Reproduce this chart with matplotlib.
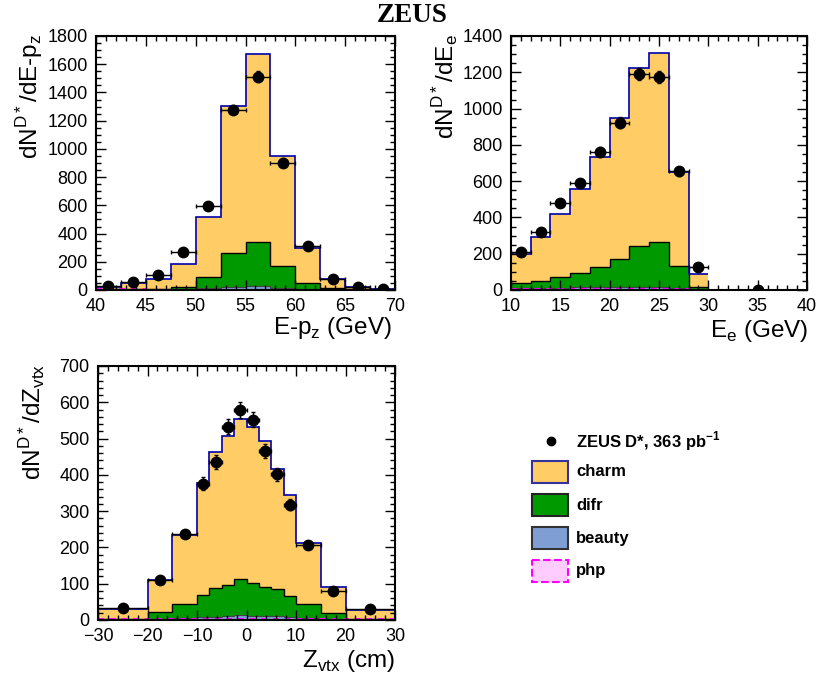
import numpy as np
import matplotlib
matplotlib.use('Agg')
import matplotlib.pyplot as plt
from matplotlib.patches import Rectangle
from matplotlib.ticker import MultipleLocator

plt.rcParams['font.family'] = ['Liberation Sans', 'DejaVu Sans']
plt.rcParams['mathtext.fontset'] = 'custom'
plt.rcParams['mathtext.rm'] = 'Liberation Sans'
plt.rcParams['mathtext.bf'] = 'Liberation Sans:bold'

# ---- E-pz panel
edges1 = np.arange(40, 70.1, 2.5)
php1 = [4, 4, 3, 2, 2, 2, 2, 2, 2, 3, 3, 3]
beauty1 = [2, 2, 3, 5, 10, 22, 24, 15, 6, 3, 1, 0]
difr1 = [1, 1, 2, 14, 80, 239, 313, 154, 42, 6, 1, 0]
charm1 = [17, 40, 70, 164, 424, 1039, 1330, 779, 246, 66, 14, 2]
x1 = [41.25, 43.75, 46.25, 48.75, 51.25, 53.75, 56.25, 58.75, 61.25, 63.75, 66.25, 68.75]
y1 = [25, 54, 109, 270, 592, 1279, 1511, 902, 310, 76, 24, 7]
ey1 = [6, 8, 12, 17, 24, 35, 38, 30, 18, 9, 5, 3]

# ---- E_e panel
edges2 = np.arange(10, 30.1, 2)
php2 = [8, 5, 4, 4, 3, 3, 3, 3, 3, 2]
beauty2 = [3, 5, 6, 12, 14, 14, 14, 13, 6, 3]
difr2 = [26, 38, 60, 80, 112, 152, 224, 250, 123, 13]
charm2 = [160, 246, 347, 462, 606, 777, 984, 1042, 520, 70]
x2 = [11, 13, 15, 17, 19, 21, 23, 25, 27, 29, 35]
y2 = [208, 318, 480, 589, 760, 923, 1190, 1172, 654, 127, 0]
ex2 = [1, 1, 1, 1, 1, 1, 1, 1, 1, 1, 0]
ey2 = [12, 16, 20, 22, 26, 30, 34, 33, 24, 10, 0]

# ---- Z_vtx panel
edges3 = [-30, -20, -15, -10, -7.5, -5, -2.5, 0, 2.5, 5, 7.5, 10, 15, 20, 30]
php3 = [2, 2, 2, 3, 3, 3, 3, 3, 3, 3, 3, 2, 2, 2]
beauty3 = [1, 2, 3, 4, 6, 9, 11, 8, 7, 8, 6, 3, 2, 1]
difr3 = [1, 18, 40, 63, 79, 84, 99, 92, 80, 75, 56, 38, 14, 1]
charm3 = [27, 88, 190, 308, 375, 411, 441, 429, 403, 331, 279, 169, 72, 24]
x3 = [-25, -17.5, -12.5, -8.75, -6.25, -3.75, -1.25, 1.25, 3.75, 6.25, 8.75, 12.5, 17.5, 25]
y3 = [32, 110, 237, 376, 435, 533, 580, 552, 465, 402, 318, 206, 81, 29]
ex3 = [5, 2.5, 2.5, 1.25, 1.25, 1.25, 1.25, 1.25, 1.25, 1.25, 1.25, 2.5, 2.5, 5]
ey3 = [5, 8, 12, 17, 19, 21, 22, 21, 19, 18, 16, 10, 6, 4]

c_charm = '#ffcc66'
c_difr = '#009900'
c_beauty = '#7f9fd4'
c_php = '#ffccff'


def draw_panel(ax, edges, php, beauty, difr, charm, xd, yd, exd, eyd):
    b0 = np.zeros(len(php))
    b1 = b0 + php
    b2 = b1 + beauty
    b3 = b2 + difr
    b4 = b3 + charm
    ax.stairs(b4, edges, baseline=b3, fill=True, color=c_charm, lw=0)
    ax.stairs(b3, edges, baseline=b2, fill=True, color=c_difr, lw=0)
    ax.stairs(b2, edges, baseline=b1, fill=True, color=c_beauty, lw=0)
    ax.stairs(b1, edges, baseline=b0, fill=True, color=c_php, lw=0)
    ax.stairs(b3, edges, baseline=None, color='black', lw=1)
    ax.stairs(b2, edges, baseline=None, color='#444444', lw=0.8)
    ax.stairs(b1, edges, baseline=None, color='magenta', lw=1.4, ls=(0, (3, 3)))
    ax.stairs(b4, edges, baseline=None, color='#0000aa', lw=1.2)
    ax.errorbar(xd, yd, xerr=exd, yerr=eyd, fmt='o', color='black', ms=7.5,
                elinewidth=1, capsize=1.5, zorder=5)


def style(ax, xlim, ylim, xmaj, xmin, ymaj, ymin):
    ax.set_xlim(xlim)
    ax.set_ylim(ylim)
    ax.xaxis.set_major_locator(MultipleLocator(xmaj))
    ax.xaxis.set_minor_locator(MultipleLocator(xmin))
    ax.yaxis.set_major_locator(MultipleLocator(ymaj))
    ax.yaxis.set_minor_locator(MultipleLocator(ymin))
    ax.tick_params(which='both', direction='in', top=True, right=True, labelsize=13, width=1)
    ax.tick_params(which='major', length=7, pad=6)
    ax.tick_params(which='minor', length=3.5)
    for s in ax.spines.values():
        s.set_linewidth(1.5)


fig = plt.figure(figsize=(8.21, 6.8), dpi=100)
W, H = 821., 680.

ax1 = fig.add_axes([96 / W, 1 - 290 / H, 299 / W, 254 / H])
draw_panel(ax1, edges1, php1, beauty1, difr1, charm1, x1, y1, 1.25, ey1)
style(ax1, (40, 70), (0, 1800), 5, 1, 200, 50)

ax2 = fig.add_axes([511 / W, 1 - 290 / H, 296 / W, 254 / H])
draw_panel(ax2, edges2, php2, beauty2, difr2, charm2, x2, y2, ex2, ey2)
style(ax2, (10, 40), (0, 1400), 5, 1, 200, 50)

ax3 = fig.add_axes([98 / W, 1 - 620 / H, 297 / W, 254 / H])
draw_panel(ax3, edges3, php3, beauty3, difr3, charm3, x3, y3, ex3, ey3)
style(ax3, (-30, 30), (0, 700), 10, 2, 100, 20)

lab = dict(fontsize=17.5)
fig.text(392 / W, 1 - 328 / H, r'E-p$_{\mathregular{z}}$ (GeV)', ha='right', va='center', **lab)
fig.text(808 / W, 1 - 331 / H, r'E$_{\mathregular{e}}$ (GeV)', ha='right', va='center', **lab)
fig.text(395 / W, 1 - 661 / H, r'Z$_{\mathregular{vtx}}$ (cm)', ha='right', va='center', **lab)
fig.text(30 / W, 1 - 34 / H, r'dN$^{\mathregular{D*}}$/dE-p$_{\mathregular{z}}$', rotation=90,
         ha='center', va='top', **lab)
fig.text(446 / W, 1 - 34 / H, r'dN$^{\mathregular{D*}}$/dE$_{\mathregular{e}}$', rotation=90,
         ha='center', va='top', **lab)
fig.text(33 / W, 1 - 364 / H, r'dN$^{\mathregular{D*}}$/dZ$_{\mathregular{vtx}}$', rotation=90,
         ha='center', va='top', **lab)

fig.text(412 / W, 1 - 15 / H, 'ZEUS', ha='center', va='center', family='Liberation Serif',
         weight='bold', fontsize=19.5)

# legend drawn in pixel coordinates
lg = fig.add_axes([0, 0, 1, 1])
lg.set_xlim(0, W)
lg.set_ylim(H, 0)
lg.axis('off')
lg.plot([551], [441], 'o', color='black', ms=6)
lg.text(576, 441, r'ZEUS D*, 363 pb$^{\mathbf{-1}}$', va='center', fontsize=12, weight='bold')
entries = [('charm', c_charm, '#333399', '-'), ('difr', c_difr, '#222222', '-'),
           ('beauty', c_beauty, '#333333', '-'), ('php', c_php, 'magenta', '--')]
for i, (name, fc, ec, ls) in enumerate(entries):
    yc = 472 + 33 * i
    lg.add_patch(Rectangle((532, yc - 11), 36, 22, facecolor=fc, edgecolor=ec, lw=1.5, ls=ls))
    lg.text(576, yc, name, va='center', fontsize=12, weight='bold')

fig.savefig('out.png', dpi=100)
